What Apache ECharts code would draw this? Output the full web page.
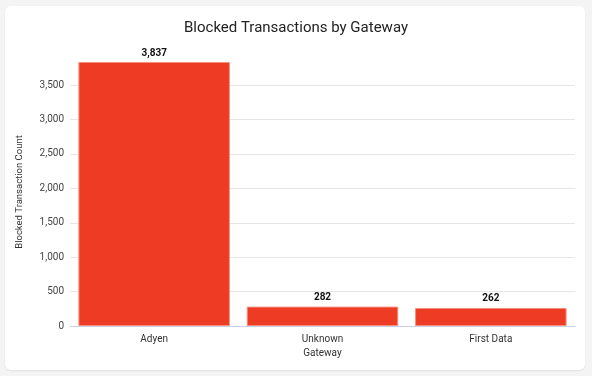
<!DOCTYPE html>
<html>
<head>
<meta charset="utf-8">
<script src="https://cdn.jsdelivr.net/npm/echarts@6/dist/echarts.min.js"></script>
<style>
  html, body { margin: 0; padding: 0; background: #f4f4f4; }
  #card {
    position: absolute; left: 5px; top: 6px; width: 580px; height: 364px;
    background: #fff; border-radius: 6px; box-shadow: 0 1px 2px rgba(0,0,0,0.08);
  }
  #main { position: absolute; left: 0; top: 0; width: 592px; height: 376px; }
</style>
</head>
<body>
<div id="card"></div>
<div id="main"></div>
<script>
// 数据
var gateways = ['Adyen', 'Unknown', 'First Data'];
var blockedCounts = [3837, 282, 262];

var myChart = echarts.init(document.getElementById('main'));

// 最后一条分隔线(最大值处)隐藏
var gridColors = ['#e6e6e6', '#e6e6e6', '#e6e6e6', '#e6e6e6', '#e6e6e6', '#e6e6e6', '#e6e6e6', '#e6e6e6', 'rgba(0,0,0,0)'];

var option = {
    animation: false,
    title: {
        text: 'Blocked Transactions by Gateway',
        left: 'center',
        top: 16,
        textStyle: {
            fontFamily: 'Roboto',
            fontSize: 15,
            fontWeight: 'normal',
            color: '#222'
        }
    },
    grid: {
        left: 70,
        right: 17,
        top: 62,
        bottom: 50
    },
    xAxis: {
        type: 'category',
        data: gateways,
        name: 'Gateway',
        nameLocation: 'middle',
        nameGap: 21,
        nameTextStyle: { fontFamily: 'Roboto', fontSize: 10, color: '#333' },
        axisLine: { lineStyle: { color: '#c9d0e3' } },
        axisTick: { show: false },
        axisLabel: { fontFamily: 'Roboto', fontSize: 10, color: '#333', margin: 8 }
    },
    yAxis: {
        type: 'value',
        min: 0,
        max: 3837,
        interval: 500,
        name: 'Blocked Transaction Count',
        nameLocation: 'middle',
        nameGap: 45,
        nameTextStyle: { fontFamily: 'Roboto', fontSize: 9.5, color: '#333', padding: [0, 0, 0, 4] },
        axisLine: { show: false },
        axisTick: { show: false },
        axisLabel: { fontFamily: 'Roboto', fontSize: 10, color: '#444', showMaxLabel: false, margin: 6 },
        splitLine: { lineStyle: { color: gridColors } }
    },
    series: [{
        type: 'bar',
        data: blockedCounts,
        barCategoryGap: '10%',
        itemStyle: {
            color: '#ee3b23',
            borderColor: '#f4907f',
            borderWidth: 1
        },
        label: {
            show: true,
            position: 'top',
            distance: 4,
            fontFamily: 'Roboto',
            fontSize: 10,
            fontWeight: 'bold',
            color: '#111',
            formatter: function (p) { return p.value.toLocaleString('en-US'); }
        }
    }]
};

myChart.setOption(option);
</script>
</body>
</html>
